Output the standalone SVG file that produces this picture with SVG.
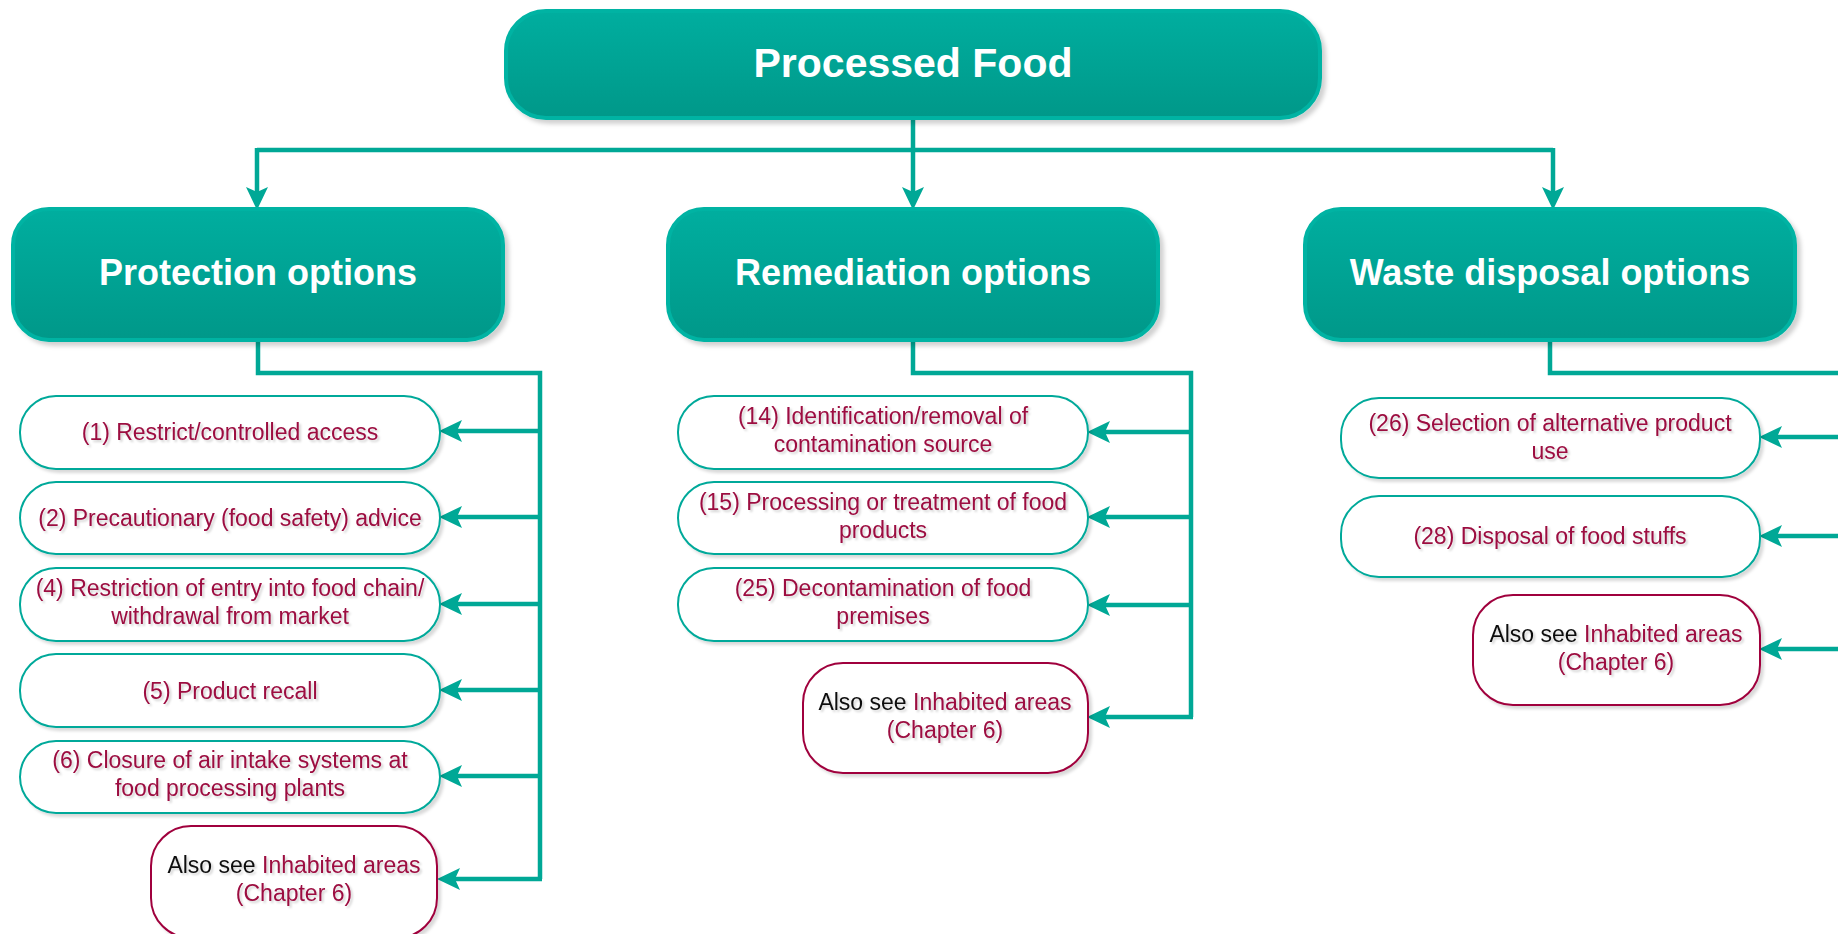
<svg xmlns="http://www.w3.org/2000/svg" width="1838" height="934" viewBox="0 0 1838 934">
<style>
.hdr{fill:url(#tg);stroke:#00b3a3;stroke-width:4;filter:url(#sh)}
.hdrt{font-family:"Liberation Sans",Arial,sans-serif;font-weight:bold;fill:#ffffff;text-anchor:middle}
.leaf{fill:#ffffff;stroke:#00a99a;stroke-width:2;filter:url(#sh2)}
.also{fill:#ffffff;stroke:#a0063e;stroke-width:2;filter:url(#sh2)}
.lt{font-family:"Liberation Sans",Arial,sans-serif;font-size:23px;fill:#9c0b40;text-anchor:middle;filter:url(#ts)}
.blk{fill:#111111}
.con{fill:none;stroke:#00a896;stroke-width:4.5}
.arr{fill:none;stroke:#00a896;stroke-width:4.5;marker-end:url(#ah)}
</style>
<defs>
<linearGradient id="tg" x1="0" y1="0" x2="0" y2="1">
<stop offset="0" stop-color="#00ae9f"/>
<stop offset="1" stop-color="#009889"/>
</linearGradient>
<filter id="sh" x="-5%" y="-10%" width="115%" height="130%">
<feDropShadow dx="4" dy="4" stdDeviation="2" flood-color="#000" flood-opacity="0.18"/>
</filter>
<filter id="sh2" x="-5%" y="-10%" width="115%" height="130%">
<feDropShadow dx="3" dy="3" stdDeviation="1.5" flood-color="#000" flood-opacity="0.15"/>
</filter>
<filter id="ts" x="-5%" y="-20%" width="115%" height="150%">
<feDropShadow dx="2" dy="2" stdDeviation="1" flood-color="#000" flood-opacity="0.18"/>
</filter>
<marker id="ah" markerUnits="userSpaceOnUse" markerWidth="24" markerHeight="24" viewBox="0 0 24 24" refX="10" refY="12" orient="auto">
<path d="M0,1 L23,12 L0,23 L5,12 z" fill="#00a896"/>
</marker>
</defs>

<g id="connectors">
<path class="con" d="M913,118 V150 M257,150 H1553"/>
<path class="arr" d="M257,148 V197"/>
<path class="arr" d="M913,150 V197"/>
<path class="arr" d="M1553,148 V197"/>

<path class="con" d="M258,340 V373 H540 V879"/>
<path class="arr" d="M540,431 H452"/>
<path class="arr" d="M540,517 H452"/>
<path class="arr" d="M540,604 H452"/>
<path class="arr" d="M540,690 H452"/>
<path class="arr" d="M540,776 H452"/>
<path class="arr" d="M542,879 H450"/>

<path class="con" d="M913,340 V373 H1191 V717"/>
<path class="arr" d="M1191,432 H1100"/>
<path class="arr" d="M1191,517 H1100"/>
<path class="arr" d="M1191,605 H1100"/>
<path class="arr" d="M1193,717 H1100"/>

<path class="con" d="M1550,340 V373 H1838"/>
<path class="arr" d="M1838,437 H1772"/>
<path class="arr" d="M1838,536 H1772"/>
<path class="arr" d="M1838,649 H1772"/>
</g>

<g id="processed-food">
<rect class="hdr" x="506" y="11" width="814" height="107" rx="40" ry="40"/>
<text class="hdrt" x="913" y="77" font-size="41">Processed Food</text>
</g>

<g id="protection-options">
<rect class="hdr" x="13" y="209" width="490" height="131" rx="36" ry="36"/>
<text class="hdrt" x="258" y="285" font-size="36">Protection options</text>
</g>
<g id="remediation-options">
<rect class="hdr" x="668" y="209" width="490" height="131" rx="36" ry="36"/>
<text class="hdrt" x="913" y="285" font-size="36">Remediation options</text>
</g>
<g id="waste-disposal-options">
<rect class="hdr" x="1305" y="209" width="490" height="131" rx="36" ry="36"/>
<text class="hdrt" x="1550" y="285" font-size="36">Waste disposal options</text>
</g>

<g id="p1">
<rect class="leaf" x="20" y="396" width="420" height="73" rx="36" ry="36"/>
<text class="lt" x="230" y="440">(1) Restrict/controlled access</text>
</g>
<g id="p2">
<rect class="leaf" x="20" y="482" width="420" height="72" rx="36" ry="36"/>
<text class="lt" x="230" y="526">(2) Precautionary (food safety) advice</text>
</g>
<g id="p4">
<rect class="leaf" x="20" y="568" width="420" height="73" rx="36" ry="36"/>
<text class="lt" x="230" y="596">(4) Restriction of entry into food chain/</text>
<text class="lt" x="230" y="624">withdrawal from market</text>
</g>
<g id="p5">
<rect class="leaf" x="20" y="654" width="420" height="73" rx="36" ry="36"/>
<text class="lt" x="230" y="699">(5) Product recall</text>
</g>
<g id="p6">
<rect class="leaf" x="20" y="741" width="420" height="72" rx="36" ry="36"/>
<text class="lt" x="230" y="768">(6) Closure of air intake systems at</text>
<text class="lt" x="230" y="796">food processing plants</text>
</g>
<g id="p-also">
<rect class="also" x="151" y="826" width="286" height="112" rx="40" ry="40"/>
<text class="lt" x="294" y="873"><tspan class="blk">Also see </tspan>Inhabited areas</text>
<text class="lt" x="294" y="901">(Chapter 6)</text>
</g>

<g id="r14">
<rect class="leaf" x="678" y="396" width="410" height="73" rx="36" ry="36"/>
<text class="lt" x="883" y="424">(14) Identification/removal of</text>
<text class="lt" x="883" y="452">contamination source</text>
</g>
<g id="r15">
<rect class="leaf" x="678" y="482" width="410" height="72" rx="36" ry="36"/>
<text class="lt" x="883" y="510">(15) Processing or treatment of food</text>
<text class="lt" x="883" y="538">products</text>
</g>
<g id="r25">
<rect class="leaf" x="678" y="568" width="410" height="73" rx="36" ry="36"/>
<text class="lt" x="883" y="596">(25) Decontamination of food</text>
<text class="lt" x="883" y="624">premises</text>
</g>
<g id="r-also">
<rect class="also" x="803" y="663" width="285" height="110" rx="40" ry="40"/>
<text class="lt" x="945" y="710"><tspan class="blk">Also see </tspan>Inhabited areas</text>
<text class="lt" x="945" y="738">(Chapter 6)</text>
</g>

<g id="w26">
<rect class="leaf" x="1341" y="398" width="419" height="80" rx="38" ry="38"/>
<text class="lt" x="1550" y="431">(26) Selection of alternative product</text>
<text class="lt" x="1550" y="459">use</text>
</g>
<g id="w28">
<rect class="leaf" x="1341" y="496" width="419" height="81" rx="38" ry="38"/>
<text class="lt" x="1550" y="544">(28) Disposal of food stuffs</text>
</g>
<g id="w-also">
<rect class="also" x="1473" y="595" width="287" height="110" rx="40" ry="40"/>
<text class="lt" x="1616" y="642"><tspan class="blk">Also see </tspan>Inhabited areas</text>
<text class="lt" x="1616" y="670">(Chapter 6)</text>
</g>
</svg>
